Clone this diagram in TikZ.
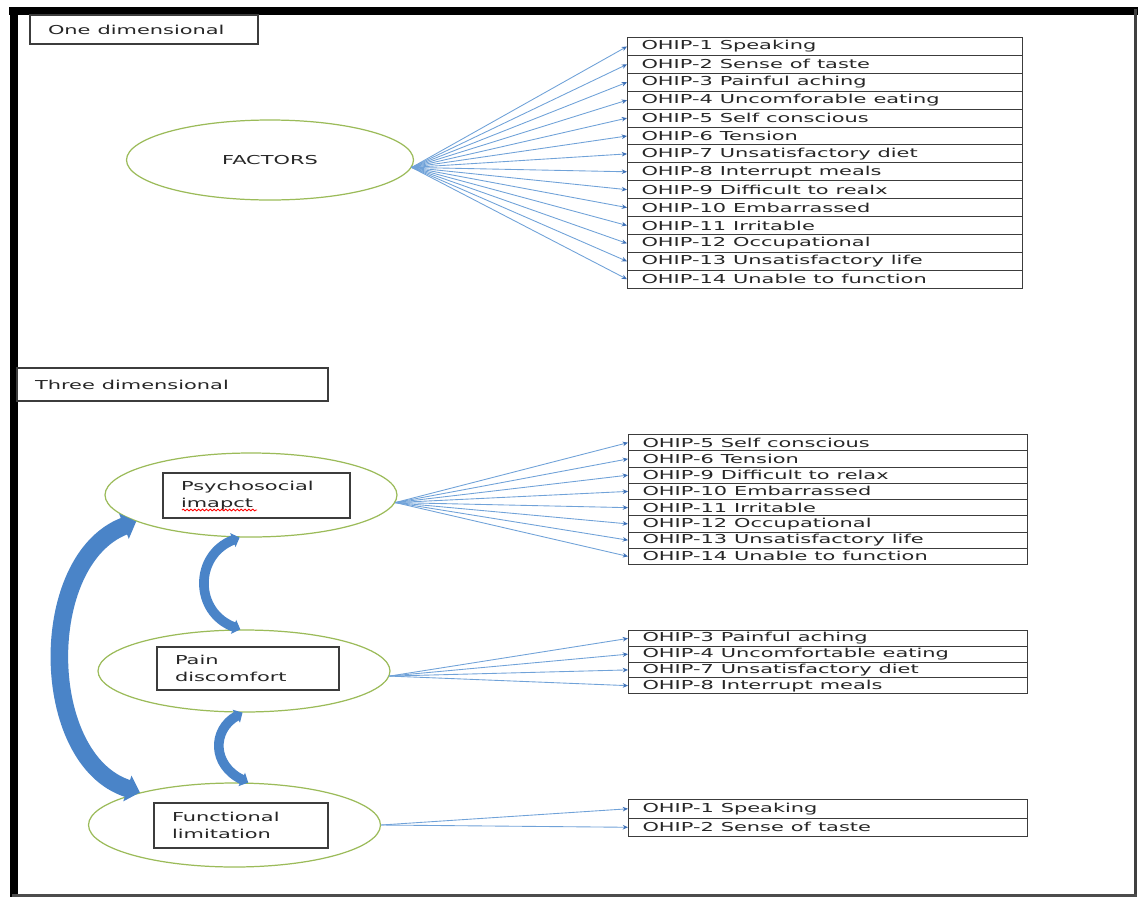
\documentclass[tikz,border=0pt]{standalone}
\usepackage{fontspec}
\setmainfont{DejaVu Sans}
\usepackage{graphicx}
\usetikzlibrary{arrows.meta, shapes.geometric, positioning, decorations.pathmorphing}

\definecolor{ovalgreen}{RGB}{155,187,89}
\definecolor{fanblue}{RGB}{112,162,216}
\definecolor{tipblue}{RGB}{62,112,182}
\definecolor{arcblue}{RGB}{74,132,200}
\definecolor{boxgray}{RGB}{60,60,60}

\newcommand{\wide}[1]{\scalebox{1.7}[1]{#1}}
\newcommand{\diagfont}{\fontsize{7}{9.7}\selectfont\color{black!85}}

\tikzset{
  edgeline/.style={line width=#1},
  ohip/.style={draw=boxgray, line width=0.6pt, anchor=north west, inner xsep=0.28cm, inner ysep=0pt, text width=#1, align=left, font=\diagfont},
  dimbox/.style={draw=boxgray, line width=0.8pt, inner xsep=0.36cm, inner ysep=0pt, minimum height=0.9cm, text width=#1, align=left, font=\diagfont},
  oval/.style={ellipse, draw=ovalgreen, line width=0.7pt, inner sep=0pt, minimum width=5.84cm, minimum height=1.68cm, font=\diagfont},
  fan/.style={draw=fanblue, line width=0.5pt, -{Stealth[length=3pt, width=2.6pt, color=tipblue]}},
  linkarc/.style={draw=arcblue, line width=#1, {Triangle[length=0pt 0.75, width=0pt 1.5]}-{Triangle[length=0pt 0.75, width=0pt 1.5]}},
}

\begin{document}
\begin{tikzpicture}[x=0.02cm, y=-0.02cm]
  \useasboundingbox (0,0) rectangle (1140,900);
  % page frame
  \draw[edgeline=4.5pt] (9,11) -- (1138,11);
  \draw[edgeline=4.5pt] (14,7) -- (14,897);
  \draw[edgeline=2pt, black!75] (1135.5,9) -- (1135.5,897);
  \draw[edgeline=1.6pt, black!70] (12,895.5) -- (1137,895.5);

  % one dimensional model
  \node[dimbox=3.84cm, minimum height=0.58cm] (onedim) at (144,29.5) {\wide{One dimensional}};
  \node[oval, minimum width=5.74cm, minimum height=1.6cm] (factors) at (270,160) {\wide{FACTORS}};
  \foreach \txt [count=\i] in {OHIP-1 Speaking, OHIP-2 Sense of taste, OHIP-3 Painful aching,
      OHIP-4 Uncomforable eating, OHIP-5 Self conscious, OHIP-6 Tension, OHIP-7 Unsatisfactory diet,
      OHIP-8 Interrupt meals, OHIP-9 Difficult to realx, OHIP-10 Embarrassed, OHIP-11 Irritable,
      OHIP-12 Occupational, OHIP-13 Unsatisfactory life, OHIP-14 Unable to function}
    \node[ohip=7.34cm, minimum height=0.358cm] (f\i) at (627,{37+17.9*(\i-1)}) {\wide{\txt}};
  \foreach \i in {1,...,14}
    \draw[fan] (factors.357) -- (f\i.west);

  % three dimensional model
  \node[dimbox=5.5cm, minimum height=0.66cm] (threedim) at (172.5,384.5) {\wide{Three dimensional}};
  \node[oval] (psy) at (251,495) {};
  \node[oval, minimum height=1.64cm] (pain) at (244,671) {};
  \node[oval] (fun) at (234.5,825) {};
  \node[dimbox=3.02cm] (psybox) at (256.5,495.5) {\wide{Psychosocial}\\\wide{imapct}};
  \node[dimbox=2.92cm, minimum height=0.86cm] (painbox) at (248,668.5) {\wide{Pain}\\\wide{discomfort}};
  \node[dimbox=2.76cm] (funbox) at (241,825.5) {\wide{Functional}\\\wide{limitation}};
  \draw[red, line width=0.5pt, decorate, decoration={snake, amplitude=0.5pt, segment length=2.2pt}] (182,510) -- (257,510);

  \foreach \txt [count=\i] in {OHIP-5 Self conscious, OHIP-6 Tension, OHIP-9 Difficult to relax,
      OHIP-10 Embarrassed, OHIP-11 Irritable, OHIP-12 Occupational, OHIP-13 Unsatisfactory life,
      OHIP-14 Unable to function}
    \node[ohip=7.42cm, minimum height=0.325cm] (ps\i) at (628,{434+16.25*(\i-1)}) {\wide{\txt}};
  \foreach \txt [count=\i] in {OHIP-3 Painful aching, OHIP-4 Uncomfortable eating,
      OHIP-7 Unsatisfactory diet, OHIP-8 Interrupt meals}
    \node[ohip=7.42cm, minimum height=0.315cm] (pd\i) at (628,{630+15.75*(\i-1)}) {\wide{\txt}};
  \foreach \txt [count=\i] in {OHIP-1 Speaking, OHIP-2 Sense of taste}
    \node[ohip=7.42cm, minimum height=0.37cm] (fl\i) at (628,{799+18.5*(\i-1)}) {\wide{\txt}};

  \foreach \i in {1,...,8}
    \draw[fan] (psy.357) -- (ps\i.west);
  \foreach \i in {1,...,4}
    \draw[fan] (pain.358) -- (pd\i.west);
  \foreach \i in {1,2}
    \draw[fan] (fun.east) -- (fl\i.west);

  % correlations between the dimensions
  \draw[linkarc=10pt] (psy.193) .. controls (36,560) and (38,760) .. (fun.161);
  \draw[linkarc=5.5pt] (psy.255) .. controls (194,555) and (194,612) .. (pain.95);
  \draw[linkarc=5.5pt] (pain.268) .. controls (212,730) and (212,765) .. (fun.72);
\end{tikzpicture}
\end{document}
